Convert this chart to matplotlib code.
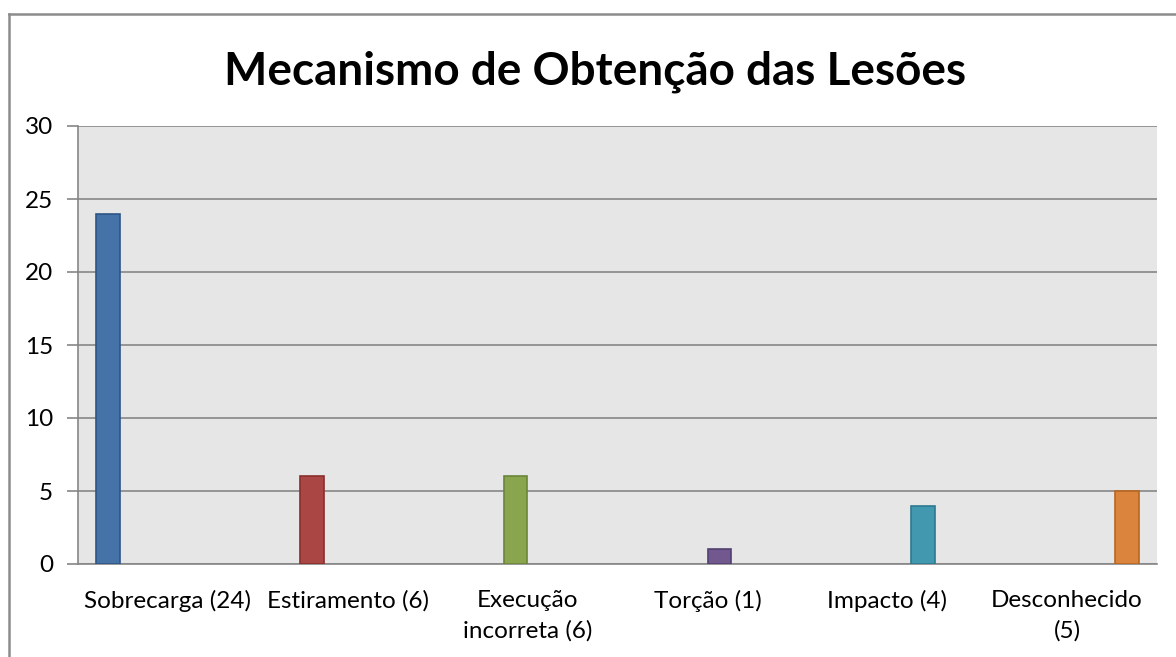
import numpy as np
import matplotlib
matplotlib.use("Agg")
from matplotlib import pyplot as plt
from matplotlib.lines import Line2D

categories = ["Sobrecarga (24)", "Estiramento (6)", "Execução\nincorreta (6)",
              "Torção (1)", "Impacto (4)", "Desconhecido\n(5)"]
values = [24, 6, 6, 1, 4, 5]
colors = ["#4572A7", "#AA4643", "#89A54E", "#71588F", "#4198AF", "#DB843D"]
edges = ["#2E5586", "#8A2F2C", "#6B8538", "#54406F", "#2B7A90", "#B86620"]
yticks = [0, 5, 10, 15, 20, 25, 30]

plt.rcParams['font.family'] = ['Lato', 'DejaVu Sans']

fig = plt.figure(figsize=(11.76, 6.57), dpi=100)
ax = fig.add_axes([78 / 1176, 1 - 564 / 657, 1079 / 1176, 438 / 657])
ax.set_facecolor("#E6E6E6")

# clustered layout: one series per category, six slots per group
n = len(values)
width = 0.8 / n
x = np.arange(n)
for i in range(n):
    ax.bar(x[i] + (i - (n - 1) / 2) * width, values[i], width=width * 0.98,
           color=colors[i], edgecolor=edges[i], linewidth=1.2, zorder=3)

ax.set_xlim(-0.5, n - 0.5)
ax.set_ylim(0, 30)
ax.set_yticks(yticks)
ax.set_yticklabels([str(v) for v in yticks], fontsize=17.5)
ax.set_xticks(x)
ax.set_xticklabels(categories, fontsize=17.5, linespacing=1.5)
ax.tick_params(axis='x', length=0, pad=19)
ax.tick_params(axis='y', length=8, width=1.2, color="#868686", pad=10)
ax.yaxis.grid(True, color="#868686", linewidth=1.2, zorder=1)
for side in ["top", "right"]:
    ax.spines[side].set_visible(False)
ax.spines["left"].set_color("#868686")
ax.spines["bottom"].set_color("#868686")
ax.spines["left"].set_linewidth(1.2)
ax.spines["bottom"].set_linewidth(1.2)

fig.text(0.506, 1 - 72 / 657, "Mecanismo de Obtenção das Lesões",
         fontsize=33, fontweight='bold', ha='center', va='center')

# chart area border (left and top only visible)
fig.add_artist(Line2D([9 / 1176, 9 / 1176], [0, 1 - 14 / 657],
                      transform=fig.transFigure, color="#8C8C8C", linewidth=1.8))
fig.add_artist(Line2D([9 / 1176, 1], [1 - 14 / 657, 1 - 14 / 657],
                      transform=fig.transFigure, color="#8C8C8C", linewidth=1.8))

fig.savefig("out.png", dpi=100)
